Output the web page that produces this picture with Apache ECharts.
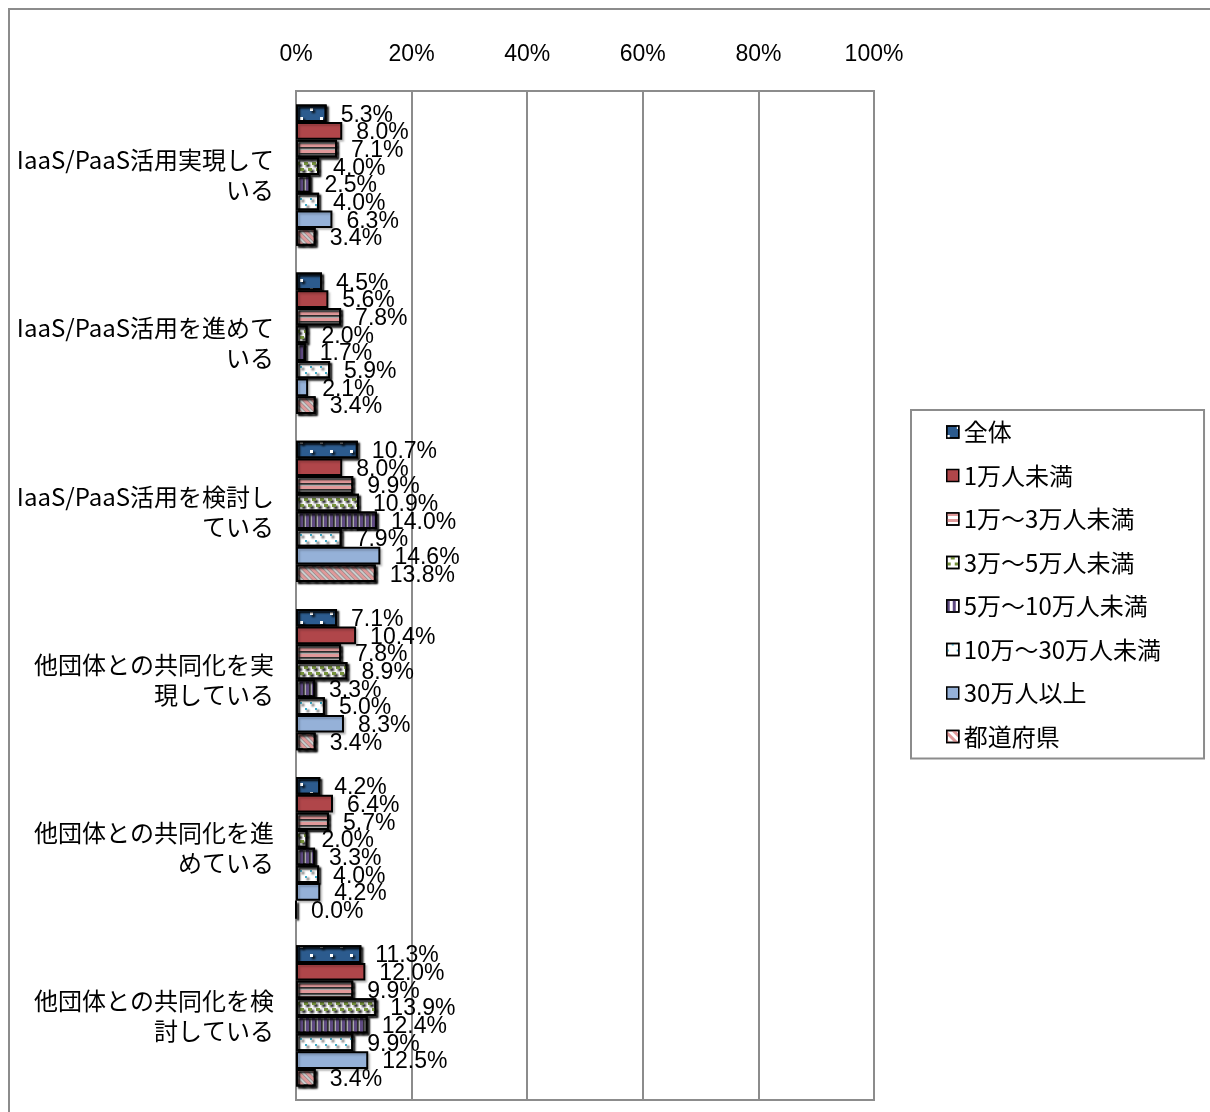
<!DOCTYPE html>
<html>
<head>
<meta charset="utf-8">
<script src="https://cdn.jsdelivr.net/npm/echarts@6/dist/echarts.min.js"></script>
<style>
html,body{margin:0;padding:0;background:#fff;}
#chart{width:1210px;height:1112px;}
</style>
</head>
<body>
<div id="chart"></div>
<script>
const categories = [
  'IaaS/PaaS活用実現して\nいる',
  'IaaS/PaaS活用を進めて\nいる',
  'IaaS/PaaS活用を検討し\nている',
  '他団体との共同化を実\n現している',
  '他団体との共同化を進\nめている',
  '他団体との共同化を検\n討している'
];
const seriesNames = ['全体','1万人未満','1万～3万人未満','3万～5万人未満','5万～10万人未満','10万～30万人未満','30万人以上','都道府県'];
const valZentai   = [5.3, 4.5, 10.7, 7.1, 4.2, 11.3];
const val1man     = [8.0, 5.6, 8.0, 10.4, 6.4, 12.0];
const val1to3     = [7.1, 7.8, 9.9, 7.8, 5.7, 9.9];
const val3to5     = [4.0, 2.0, 10.9, 8.9, 2.0, 13.9];
const val5to10    = [2.5, 1.7, 14.0, 3.3, 3.3, 12.4];
const val10to30   = [4.0, 5.9, 7.9, 5.0, 4.0, 9.9];
const val30plus   = [6.3, 2.1, 14.6, 8.3, 4.2, 12.5];
const valPref     = [3.4, 3.4, 13.8, 3.4, 0.0, 3.4];
const xTicks = [0, 20, 40, 60, 80, 100];

const seriesValues = [valZentai, val1man, val1to3, val3to5, val5to10, val10to30, val30plus, valPref];

const styles = [
  {color:'#2C5B8E', decal:{symbol:'rect', symbolSize:1, color:'#ffffff', dashArrayX:[[3,17],[0,10,3,7]], dashArrayY:[3,6]}},
  {color:'#B0464A'},
  {color:'#ffffff', decal:{symbol:'rect', symbolSize:1, color:'#E0999A', dashArrayX:[1,0], dashArrayY:[3,3]}},
  {color:'#ffffff', decal:{symbol:'rect', symbolSize:1, color:'#76923C', dashArrayX:[[4,4],[0,4,4,0]], dashArrayY:[3,3]}},
  {color:'#ffffff', decal:{symbol:'rect', symbolSize:1, color:'#5F4A82', dashArrayX:[3,3], dashArrayY:[1,0]}},
  {color:'#ffffff', decal:{symbol:'rect', symbolSize:1, color:'#3FA9C5', dashArrayX:[[2,8],[0,5,2,3]], dashArrayY:[2,4]}},
  {color:'#95B1D8'},
  {color:'#ffffff', decal:{symbol:'rect', symbolSize:1, color:'#E0999A', dashArrayX:[1,0], dashArrayY:[3,3], rotation:Math.PI/4}}
];

const chart = echarts.init(document.getElementById('chart'), null, {renderer:'canvas'});
const series = seriesNames.map((name, i) => ({
  name: name,
  type: 'bar',
  data: seriesValues[i],
  barGap: '0%',
  barCategoryGap: '16%',
  itemStyle: Object.assign({
    borderColor:'#000', borderWidth:2,
    shadowColor:'rgba(0,0,0,0.2)', shadowBlur:2, shadowOffsetX:2, shadowOffsetY:2
  }, styles[i]),
  label: {
    show: true, position: 'right', distance: 14, offset:[0,2],
    formatter: p => p.value.toFixed(1) + '%',
    fontFamily: 'Liberation Sans', fontSize: 23, color: '#000'
  },
  emphasis: {disabled: true}
}));

chart.setOption({
  animation: false,
  backgroundColor: '#fff',
  graphic: [{
    type:'rect', shape:{x:9, y:9, width:1230, height:1130},
    style:{fill:'none', stroke:'#8c8c8c', lineWidth:2}, silent:true
  }],
  grid: {left:296, top:91, width:578, height:1009, show:true, borderColor:'#8c8c8c', borderWidth:2, backgroundColor:'transparent'},
  legend: {
    orient:'vertical', left:911, top:410,
    padding:[10, 43, 10, 35], itemGap:19.5,
    itemWidth:12, itemHeight:12, icon:'rect',
    borderColor:'#8c8c8c', borderWidth:2,
    textStyle:{fontFamily:'Noto Sans CJK JP', fontSize:24, lineHeight:24, color:'#000'},
    itemStyle:{borderColor:'#000', borderWidth:1.5, shadowBlur:0, shadowOffsetX:0, shadowOffsetY:0},
    data: seriesNames
  },
  xAxis: {
    type:'value', position:'top', min:xTicks[0], max:xTicks[xTicks.length-1], interval:xTicks[1]-xTicks[0],
    axisLine:{show:false}, axisTick:{show:false},
    splitLine:{show:true, lineStyle:{color:'#8c8c8c', width:2}},
    axisLabel:{formatter:'{value}%', fontFamily:'Liberation Sans', fontSize:23, color:'#000', margin:25}
  },
  yAxis: {
    type:'category', inverse:true, data:categories,
    axisLine:{show:true, lineStyle:{color:'#8c8c8c', width:2}}, axisTick:{show:false},
    axisLabel:{fontFamily:'Noto Sans CJK JP', fontSize:24, lineHeight:30, color:'#000', margin:22, align:'right'}
  },
  series: series
});
</script>
</body>
</html>
